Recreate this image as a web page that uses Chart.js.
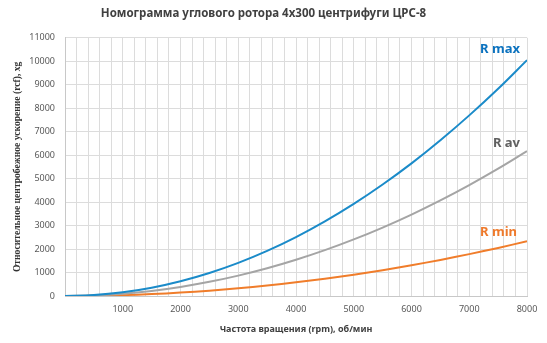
<!DOCTYPE html>
<html>
<head>
<meta charset="utf-8">
<script src="https://cdn.jsdelivr.net/npm/chart.js@4"></script>
<style>
  html, body { margin: 0; padding: 0; background: #fff; }
  #wrap { width: 547px; height: 343px; }
</style>
</head>
<body>
<div id="wrap"><canvas id="rcf-chart"></canvas></div>
<script>
// rotor speed, rpm
const rpm = [0, 500, 1000, 1500, 2000, 2500, 3000, 3500, 4000, 4500, 5000, 5500, 6000, 6500, 7000, 7500, 8000]
// relative centrifugal force, xg
const rcfMax = [0, 40, 157, 353, 628, 980, 1410, 1920, 2510, 3180, 3925, 4750, 5650, 6635, 7695, 8830, 10050]
const rcfAv = [0, 24, 96, 217, 386, 603, 868, 1181, 1543, 1952, 2410, 2916, 3470, 4073, 4724, 5423, 6170]
const rcfMin = [0, 9, 36, 82, 146, 228, 328, 446, 583, 737, 910, 1101, 1311, 1538, 1784, 2048, 2330]

const seriesNames = ["R max", "R av", "R min"]
const seriesColors = ["#1b8bc9", "#a5a5a5", "#f07d2b"]
const labelColors = ["#0b72bf", "#606060", "#ee7a2c"]

const xTicks = [1000, 2000, 3000, 4000, 5000, 6000, 7000, 8000]
const yTicks = [0, 1000, 2000, 3000, 4000, 5000, 6000, 7000, 8000, 9000, 10000, 11000]

const toPoints = (ys) => rpm.map((x, i) => ({ x: x, y: ys[i] }))

// curve names drawn just above each curve's end point
const endLabels = {
  id: "endLabels",
  afterDatasetsDraw(chart) {
    const ctx = chart.ctx
    const right = chart.chartArea.right
    const lifts = [11, 8, 9]
    const insets = [7, 7, 10]
    ctx.save()
    ctx.font = "bold 13px 'Noto Sans'"
    ctx.textAlign = "right"
    ctx.textBaseline = "middle"
    chart.data.datasets.forEach((ds, i) => {
      const meta = chart.getDatasetMeta(i)
      const last = meta.data[meta.data.length - 1]
      ctx.fillStyle = labelColors[i]
      ctx.fillText(ds.label, right - insets[i], last.y - lifts[i])
    })
    ctx.restore()
  },
}

const ctx = document.getElementById("rcf-chart").getContext("2d")

new Chart(ctx, {
  type: "line",
  data: {
    datasets: [rcfMax, rcfAv, rcfMin].map((ys, i) => ({
      label: seriesNames[i],
      data: toPoints(ys),
      borderColor: seriesColors[i],
      borderWidth: 2,
      pointRadius: 0,
      tension: 0.4,
      fill: false,
    })),
  },
  options: {
    responsive: true,
    maintainAspectRatio: false,
    animation: false,
    layout: { padding: { left: 0, right: 20, top: 0, bottom: 0 } },
    plugins: {
      legend: { display: false },
      tooltip: { enabled: false },
      title: {
        display: true,
        text: "Номограмма углового ротора 4х300 центрифуги ЦРС-8",
        color: "#404040",
        font: { family: "'Noto Sans'", size: 11.5, weight: "bold" },
        padding: { top: 7, bottom: 17 },
      },
    },
    scales: {
      x: {
        type: "linear",
        min: 0,
        max: 8000,
        afterFit(scale) { scale.height = 47 },
        afterBuildTicks(scale) {
          const t = []
          for (let v = 0; v <= 8000; v += 200) t.push({ value: v })
          scale.ticks = t
        },
        ticks: {
          autoSkip: false,
          maxRotation: 0,
          color: "#595959",
          font: { family: "'Noto Sans'", size: 9 },
          padding: 8,
          callback: (v) => (xTicks.includes(v) ? String(v) : ""),
        },
        grid: { color: "#dcdcdc", lineWidth: 1, drawTicks: false },
        border: { color: "#c8c8c8" },
        title: {
          display: true,
          text: "Частота вращения (rpm), об/мин",
          color: "#404040",
          font: { family: "'Noto Sans'", size: 9, weight: "bold" },
          padding: { top: 4, bottom: 8 },
        },
      },
      y: {
        min: 0,
        max: 11000,
        afterFit(scale) { scale.width = 65 },
        afterBuildTicks(scale) {
          scale.ticks = yTicks.map((v) => ({ value: v }))
        },
        ticks: {
          color: "#595959",
          font: { family: "'Noto Sans'", size: 9 },
          padding: 10,
          callback: (v) => String(v),
        },
        grid: { color: "#dcdcdc", lineWidth: 1, drawTicks: false },
        border: { color: "#c8c8c8" },
        title: {
          display: true,
          text: "Относительное центробежное ускорение (rcf), xg",
          color: "#333333",
          font: { family: "'Liberation Serif'", size: 9.6, weight: "bold" },
          padding: { top: 12, bottom: 4 },
        },
      },
    },
  },
  plugins: [endLabels],
})
</script>
</body>
</html>
